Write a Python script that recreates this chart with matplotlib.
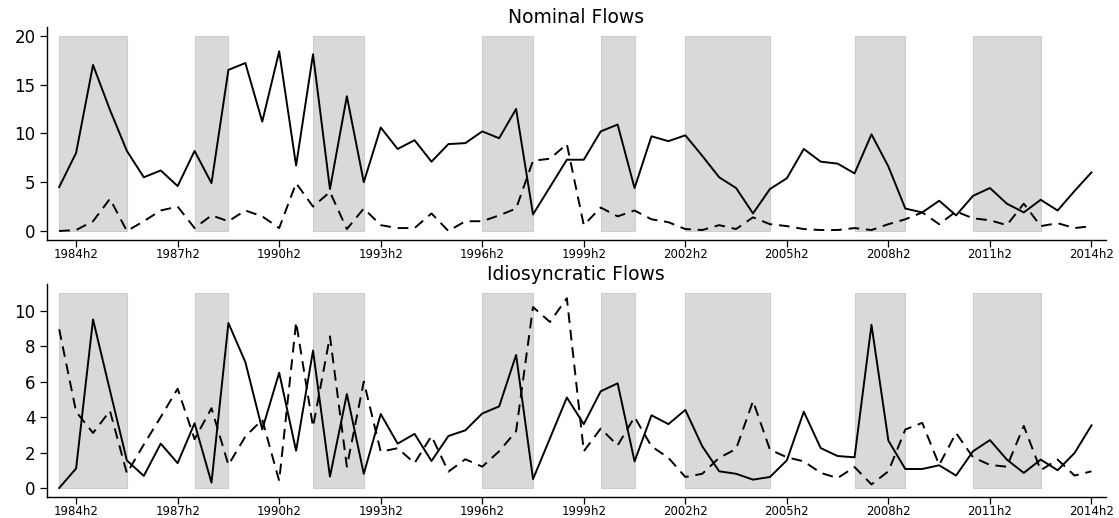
import matplotlib
matplotlib.use("Agg")
import matplotlib.pyplot as plt

plt.rcParams['font.family'] = ['DejaVu Sans']

# half-year periods 1984h1 .. 2014h2
periods = [f"{y}h{h}" for y in range(1984, 2015) for h in (1, 2)]

# shaded episodes (start, end) as period labels
shade_start = ["1984h1", "1988h1", "1991h2", "1996h2", "2000h1", "2002h2", "2007h2", "2011h1"]
shade_end = ["1986h1", "1989h1", "1993h1", "1998h1", "2001h1", "2005h1", "2009h1", "2013h1"]

nominal_solid = [4.5, 8.0, 17.0, 12.4, 8.2, 5.5, 6.2, 4.6, 8.2, 4.9,
                 16.5, 17.2, 11.2, 18.4, 6.7, 18.1, 4.3, 13.8, 5.0, 10.6,
                 8.4, 9.3, 7.1, 8.9, 9.0, 10.2, 9.5, 12.5, 1.7, 4.5,
                 7.3, 7.3, 10.2, 10.9, 4.4, 9.7, 9.2, 9.8, 7.7, 5.5,
                 4.4, 1.8, 4.3, 5.4, 8.4, 7.1, 6.9, 5.9, 9.9, 6.6,
                 2.3, 1.9, 3.1, 1.6, 3.6, 4.4, 2.8, 1.9, 3.2, 2.1,
                 4.1, 6.0]
nominal_dash = [0.0, 0.1, 1.0, 3.3, 0.0, 1.0, 2.1, 2.5, 0.3, 1.6,
                1.0, 2.1, 1.5, 0.3, 4.9, 2.5, 4.0, 0.2, 2.3, 0.6,
                0.3, 0.3, 1.8, 0.0, 1.0, 1.0, 1.6, 2.3, 7.2, 7.4,
                8.9, 0.6, 2.4, 1.5, 2.1, 1.2, 0.9, 0.2, 0.1, 0.6,
                0.2, 1.4, 0.7, 0.5, 0.2, 0.1, 0.1, 0.3, 0.1, 0.7,
                1.2, 1.9, 0.7, 2.0, 1.3, 1.1, 0.6, 2.8, 0.5, 0.8,
                0.3, 0.5]
idio_solid = [0.0, 1.1, 9.5, 5.5, 1.55, 0.68, 2.5, 1.4, 3.65, 0.3,
              9.3, 7.1, 3.3, 6.5, 2.1, 7.75, 0.64, 5.3, 0.8, 4.17,
              2.5, 3.05, 1.52, 2.93, 3.25, 4.2, 4.6, 7.5, 0.5, 2.8,
              5.1, 3.6, 5.45, 5.9, 1.5, 4.1, 3.6, 4.4, 2.35, 0.94,
              0.8, 0.47, 0.62, 1.56, 4.3, 2.25, 1.8, 1.73, 9.2, 2.67,
              1.07, 1.07, 1.28, 0.7, 2.07, 2.7, 1.6, 0.85, 1.6, 1.0,
              1.97, 3.53]
idio_dash = [8.95, 4.3, 3.1, 4.35, 0.83, 2.45, 4.0, 5.6, 2.75, 4.5,
             1.3, 2.9, 3.85, 0.4, 9.35, 3.45, 8.55, 1.2, 6.0, 2.05,
             2.24, 1.4, 2.93, 0.92, 1.62, 1.2, 2.07, 3.2, 10.2, 9.36,
             10.7, 2.07, 3.35, 2.4, 4.0, 2.35, 1.7, 0.62, 0.8, 1.7,
             2.2, 4.9, 2.16, 1.73, 1.5, 0.85, 0.56, 1.18, 0.2, 0.94,
             3.3, 3.67, 1.3, 3.1, 1.73, 1.3, 1.2, 3.5, 1.0, 1.6,
             0.7, 0.94]

tick_labels = ["1984h2", "1987h2", "1990h2", "1993h2", "1996h2", "1999h2",
               "2002h2", "2005h2", "2008h2", "2011h2", "2014h2"]

x = list(range(len(periods)))

fig = plt.figure(figsize=(11.19, 5.18), dpi=100)
ax1 = fig.add_axes([0.0417, 0.5367, 0.9464, 0.4106])
ax2 = fig.add_axes([0.0417, 0.0405, 0.9464, 0.4112])


def draw(ax, solid, dash, title, shade_top, ylim, yticks):
    for s, e in zip(shade_start, shade_end):
        ax.fill_between([periods.index(s), periods.index(e)], 0, shade_top,
                        facecolor="#d9d9d9", edgecolor="#cdcdcd", lw=0.8, zorder=1)
    ax.plot(x, solid, color="black", lw=1.4, zorder=3)
    ax.plot(x, dash, color="black", lw=1.4, dashes=(5.5, 3.5), zorder=3)
    ax.set_xlim(-0.74, 61.84)
    ax.set_ylim(*ylim)
    ax.set_yticks(yticks)
    ax.set_xticks([periods.index(t) for t in tick_labels])
    ax.set_xticklabels(tick_labels, fontsize=8.5)
    ax.tick_params(axis="y", labelsize=12, length=5, width=0.9, pad=3)
    ax.tick_params(axis="x", length=5, width=0.9, pad=1)
    for side in ("top", "right"):
        ax.spines[side].set_visible(False)
    for side in ("left", "bottom"):
        ax.spines[side].set_linewidth(1.0)
    ax.set_title(title, fontsize=13.5, pad=3)


draw(ax1, nominal_solid, nominal_dash, "Nominal Flows", 20, (-0.92, 20.86), [0, 5, 10, 15, 20])
draw(ax2, idio_solid, idio_dash, "Idiosyncratic Flows", 11, (-0.51, 11.5), [0, 2, 4, 6, 8, 10])

fig.savefig("out.png", dpi=100)
